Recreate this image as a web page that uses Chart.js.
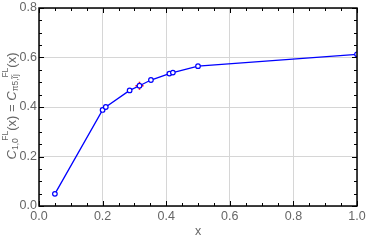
<!DOCTYPE html>
<html>
<head>
<meta charset="utf-8">
<script src="https://cdn.jsdelivr.net/npm/chart.js@4/dist/chart.umd.min.js"></script>
<style>
  html, body { margin: 0; padding: 0; background: #fff; }
  #wrap { width: 366px; height: 240px; position: relative; }
</style>
</head>
<body>
<div id="wrap"><canvas id="chart"></canvas></div>
<script>
// values
const xVals = [0.05, 0.20, 0.21, 0.285, 0.316, 0.352, 0.41, 0.421, 0.50, 1.00];
const yVals = [0.049, 0.388, 0.400, 0.467, 0.486, 0.509, 0.535, 0.539, 0.565, 0.613];
const markX = [0.316];
const markY = [0.486];
const xTicks = [0, 0.2, 0.4, 0.6, 0.8, 1.0];
const yTicks = [0, 0.2, 0.4, 0.6, 0.8];

const textColor = '#666';
const fontFamily = '"Liberation Sans", Arial, sans-serif';

const frame = {
    id: 'frame',
    afterDraw(chart) {
        const { ctx, chartArea: a, scales } = chart;
        ctx.save();
        ctx.strokeStyle = '#000';
        ctx.lineWidth = 1;
        // minor + major ticks on all four sides
        for (let i = 0; i <= 20; i++) {
            const v = i * 0.05;
            const len = i % 4 === 0 ? 5 : 3;
            const px = Math.round(scales.x.getPixelForValue(v)) + 0.5;
            ctx.beginPath();
            ctx.moveTo(px, a.bottom); ctx.lineTo(px, a.bottom - len);
            ctx.moveTo(px, a.top); ctx.lineTo(px, a.top + len);
            ctx.stroke();
        }
        for (let i = 0; i <= 16; i++) {
            const v = i * 0.05;
            const len = i % 4 === 0 ? 5 : 3;
            const py = Math.round(scales.y.getPixelForValue(v)) + 0.5;
            ctx.beginPath();
            ctx.moveTo(a.left, py); ctx.lineTo(a.left + len, py);
            ctx.moveTo(a.right, py); ctx.lineTo(a.right - len, py);
            ctx.stroke();
        }
        ctx.lineWidth = 1.5;
        ctx.strokeRect(a.left, a.top, a.right - a.left, a.bottom - a.top);

        // axis titles
        ctx.fillStyle = textColor;
        ctx.font = '12.5px ' + fontFamily;
        ctx.textAlign = 'center';
        ctx.textBaseline = 'middle';
        ctx.fillText('x', (a.left + a.right) / 2, 232);

        // y title: C_{1,0}^{FL}(x) = C_{π5,ĩj}^{FL}(x)
        ctx.translate(12, 106);
        ctx.rotate(-Math.PI / 2);
        const parts = [
            { t: 'C', f: 'italic 13px', dy: 0 },
            { t: '1,0', f: '8.5px', dy: 3.5, sub: true },
            { t: 'FL', f: '8.5px', dy: -6, sup: true },
            { t: '(x) = ', f: '13px', dy: 0 },
            { t: 'C', f: 'italic 13px', dy: 0 },
            { t: 'π5,ĩj', f: '8.5px', dy: 3.5, sub: true },
            { t: 'FL', f: '8.5px', dy: -6, sup: true },
            { t: '(x)', f: '13px', dy: 0 }
        ];
        const widths = [];
        for (let i = 0; i < parts.length; i++) {
            ctx.font = parts[i].f + ' ' + fontFamily;
            widths[i] = ctx.measureText(parts[i].t).width;
        }
        // superscript sits just after its subscript
        let x = 0;
        const pos = [];
        for (let i = 0; i < parts.length; i++) {
            if (parts[i].sup) {
                pos[i] = x - widths[i - 1] * 0.2;
                x = pos[i] + widths[i];
            } else {
                pos[i] = x;
                x += widths[i];
            }
        }
        const total = x;
        ctx.textAlign = 'left';
        for (let i = 0; i < parts.length; i++) {
            ctx.font = parts[i].f + ' ' + fontFamily;
            ctx.fillText(parts[i].t, pos[i] - total / 2, parts[i].dy);
        }
        ctx.restore();
    }
};

new Chart(document.getElementById('chart'), {
    type: 'scatter',
    data: {
        datasets: [
            {
                data: xVals.map((x, i) => ({ x, y: yVals[i] })),
                showLine: true,
                borderColor: '#0000ff',
                borderWidth: 1.3,
                pointRadius: 2.3,
                pointBorderWidth: 1.2,
                pointBackgroundColor: '#fff',
                pointBorderColor: '#0000ff'
            },
            {
                data: markX.map((x, i) => ({ x, y: markY[i] })),
                pointStyle: 'cross',
                pointRadius: 4,
                pointBorderWidth: 1.5,
                pointBorderColor: '#ff0000',
                borderColor: '#ff0000'
            }
        ]
    },
    options: {
        responsive: true,
        maintainAspectRatio: false,
        animation: false,
        layout: { padding: { top: 8, right: 9, left: 0, bottom: 0 } },
        plugins: { legend: { display: false }, tooltip: { enabled: false } },
        scales: {
            x: {
                type: 'linear', min: 0, max: 1,
                afterBuildTicks: s => { s.ticks = xTicks.map(v => ({ value: v })); },
                afterFit: s => { s.height = 34; s.paddingRight = 0; s.paddingLeft = 0; },
                grid: { color: '#d6d6d6', lineWidth: 1, drawTicks: false },
                border: { display: false },
                ticks: {
                    color: textColor, padding: 3,
                    font: { size: 12.5, family: fontFamily },
                    callback: v => v.toFixed(1)
                }
            },
            y: {
                type: 'linear', min: 0, max: 0.8,
                afterBuildTicks: s => { s.ticks = yTicks.map(v => ({ value: v })); },
                afterFit: s => { s.width = 39; s.paddingTop = 0; s.paddingBottom = 0; },
                grid: { color: '#d6d6d6', lineWidth: 1, drawTicks: false },
                border: { display: false },
                ticks: {
                    color: textColor, padding: 2,
                    font: { size: 12.5, family: fontFamily },
                    callback: v => v.toFixed(1)
                }
            }
        }
    },
    plugins: [frame]
});
</script>
</body>
</html>
